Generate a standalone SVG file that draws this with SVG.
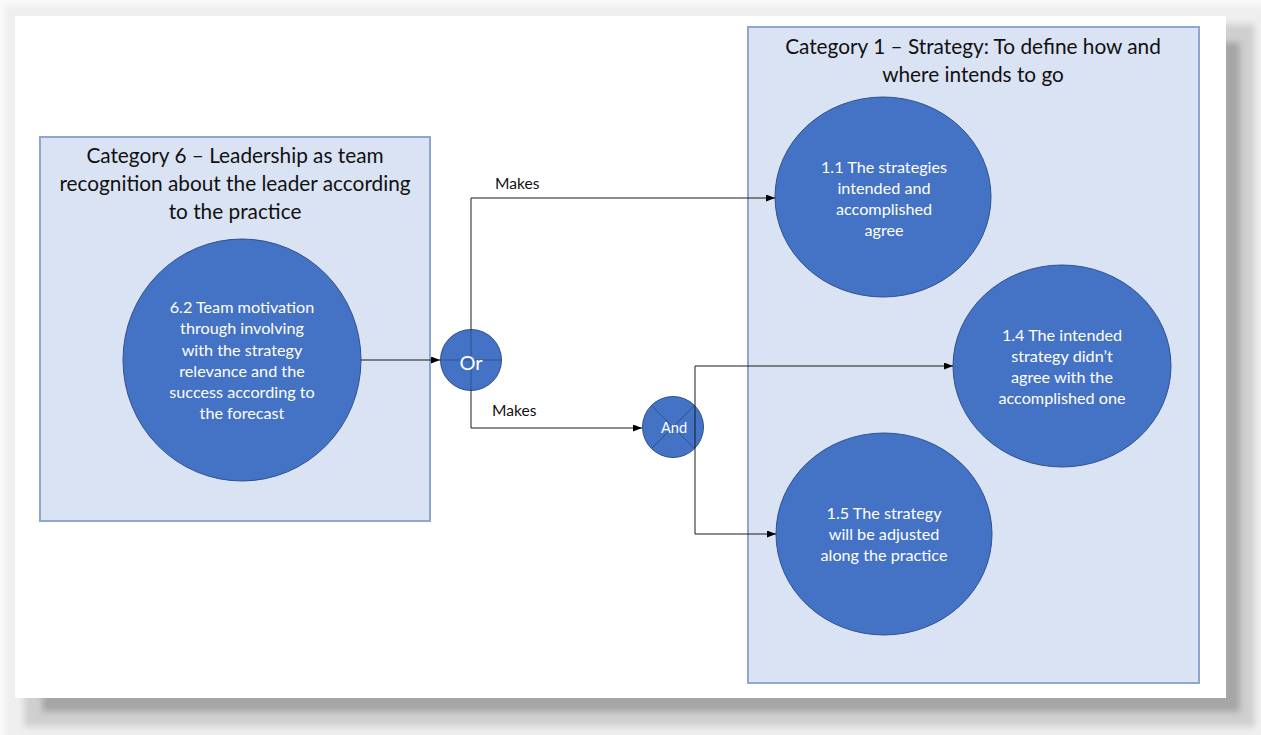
<svg xmlns="http://www.w3.org/2000/svg" width="1261" height="735" viewBox="0 0 1261 735">
  <style>
    .box { fill: #dae3f3; stroke: #8ea6d0; stroke-width: 2; }
    .node { fill: #4472c4; stroke: #2f528f; stroke-width: 1; }
    .title { font-family: Lato, "Liberation Sans", sans-serif; font-size: 20.8px; fill: #111111; text-anchor: middle; }
    .ntext { font-family: Lato, "Liberation Sans", sans-serif; font-size: 16.2px; fill: #ffffff; text-anchor: middle; }
    .label { font-family: Lato, "Liberation Sans", sans-serif; font-size: 15.6px; fill: #111111; }
    .conn { fill: none; stroke: #1a1a1a; stroke-width: 1; }
    .cross { stroke: #2f528f; stroke-width: 1; }
  </style>
  <defs>
    <marker id="arrow" markerUnits="userSpaceOnUse" markerWidth="9" markerHeight="7" refX="9" refY="3.5" orient="auto">
      <path d="M0,0 L9,3.5 L0,7 z" fill="#000000"/>
    </marker>
    <filter id="soft" x="-5%" y="-5%" width="110%" height="110%">
      <feGaussianBlur stdDeviation="3"/>
    </filter>
  </defs>

  <g id="background">
    <rect x="0" y="0" width="1261" height="735" fill="#fafafa"/>
    <g filter="url(#soft)">
      <rect x="5" y="5" width="1262" height="740" fill="#efefef"/>
      <rect x="24" y="24" width="1231" height="703" fill="#cfcfcf"/>
      <rect x="42" y="42" width="1198" height="670" fill="#a6a6a6"/>
    </g>
    <rect x="15" y="16" width="1211" height="682" fill="#ffffff"/>
  </g>

  <g id="category6">
    <rect class="box" x="40" y="137" width="390" height="384"/>
    <text class="title" x="235" y="163">Category 6 – Leadership as team</text>
    <text class="title" x="235" y="191">recognition about the leader according</text>
    <text class="title" x="235" y="219">to the practice</text>
  </g>

  <g id="category1">
    <rect class="box" x="748" y="27" width="451" height="656"/>
    <text class="title" x="973" y="54">Category 1 – Strategy: To define how and</text>
    <text class="title" x="973" y="82">where intends to go</text>
  </g>

  <g id="node-6-2">
    <ellipse class="node" cx="242" cy="360" rx="119" ry="121"/>
    <text class="ntext" x="242" y="313">6.2 Team motivation</text>
    <text class="ntext" x="242" y="334">through involving</text>
    <text class="ntext" x="242" y="356">with the strategy</text>
    <text class="ntext" x="242" y="377">relevance and the</text>
    <text class="ntext" x="242" y="398">success according to</text>
    <text class="ntext" x="242" y="419">the forecast</text>
  </g>

  <g id="node-1-1">
    <ellipse class="node" cx="883" cy="197" rx="108" ry="100"/>
    <text class="ntext" x="884" y="173">1.1 The strategies</text>
    <text class="ntext" x="884" y="194">intended and</text>
    <text class="ntext" x="884" y="215">accomplished</text>
    <text class="ntext" x="884" y="236">agree</text>
  </g>

  <g id="node-1-4">
    <ellipse class="node" cx="1062" cy="366" rx="109" ry="101"/>
    <text class="ntext" x="1062" y="341">1.4 The intended</text>
    <text class="ntext" x="1062" y="362">strategy didn’t</text>
    <text class="ntext" x="1062" y="383">agree with the</text>
    <text class="ntext" x="1062" y="404">accomplished one</text>
  </g>

  <g id="node-1-5">
    <ellipse class="node" cx="884" cy="534" rx="108" ry="101"/>
    <text class="ntext" x="884" y="519">1.5 The strategy</text>
    <text class="ntext" x="884" y="540">will be adjusted</text>
    <text class="ntext" x="884" y="561">along the practice</text>
  </g>

  <g id="gate-or">
    <circle class="node" cx="471" cy="360" r="30.5"/>
    <line class="cross" x1="440.5" y1="360" x2="501.5" y2="360"/>
    <line class="cross" x1="471" y1="329.5" x2="471" y2="390.5"/>
    <text x="471" y="370" font-family="Lato, 'Liberation Sans', sans-serif" font-size="20" fill="#ffffff" text-anchor="middle">Or</text>
  </g>

  <g id="gate-and">
    <circle class="node" cx="673" cy="427" r="30.5"/>
    <line class="cross" x1="651.4" y1="405.4" x2="694.6" y2="448.6"/>
    <line class="cross" x1="694.6" y1="405.4" x2="651.4" y2="448.6"/>
    <text x="674" y="432.5" font-family="Lato, 'Liberation Sans', sans-serif" font-size="14.6" fill="#ffffff" text-anchor="middle">And</text>
  </g>

  <g id="connectors">
    <path class="conn" d="M361,360 L440,360" marker-end="url(#arrow)"/>
    <path class="conn" d="M471,329.5 L471,198 L775,198" marker-end="url(#arrow)"/>
    <path class="conn" d="M471,390.5 L471,428 L642,428" marker-end="url(#arrow)"/>
    <path class="conn" d="M695,534 L695,366 L953,366" marker-end="url(#arrow)"/>
    <path class="conn" d="M695,534 L776,534" marker-end="url(#arrow)"/>
    <text class="label" x="495" y="189">Makes</text>
    <text class="label" x="492" y="416">Makes</text>
  </g>
</svg>
